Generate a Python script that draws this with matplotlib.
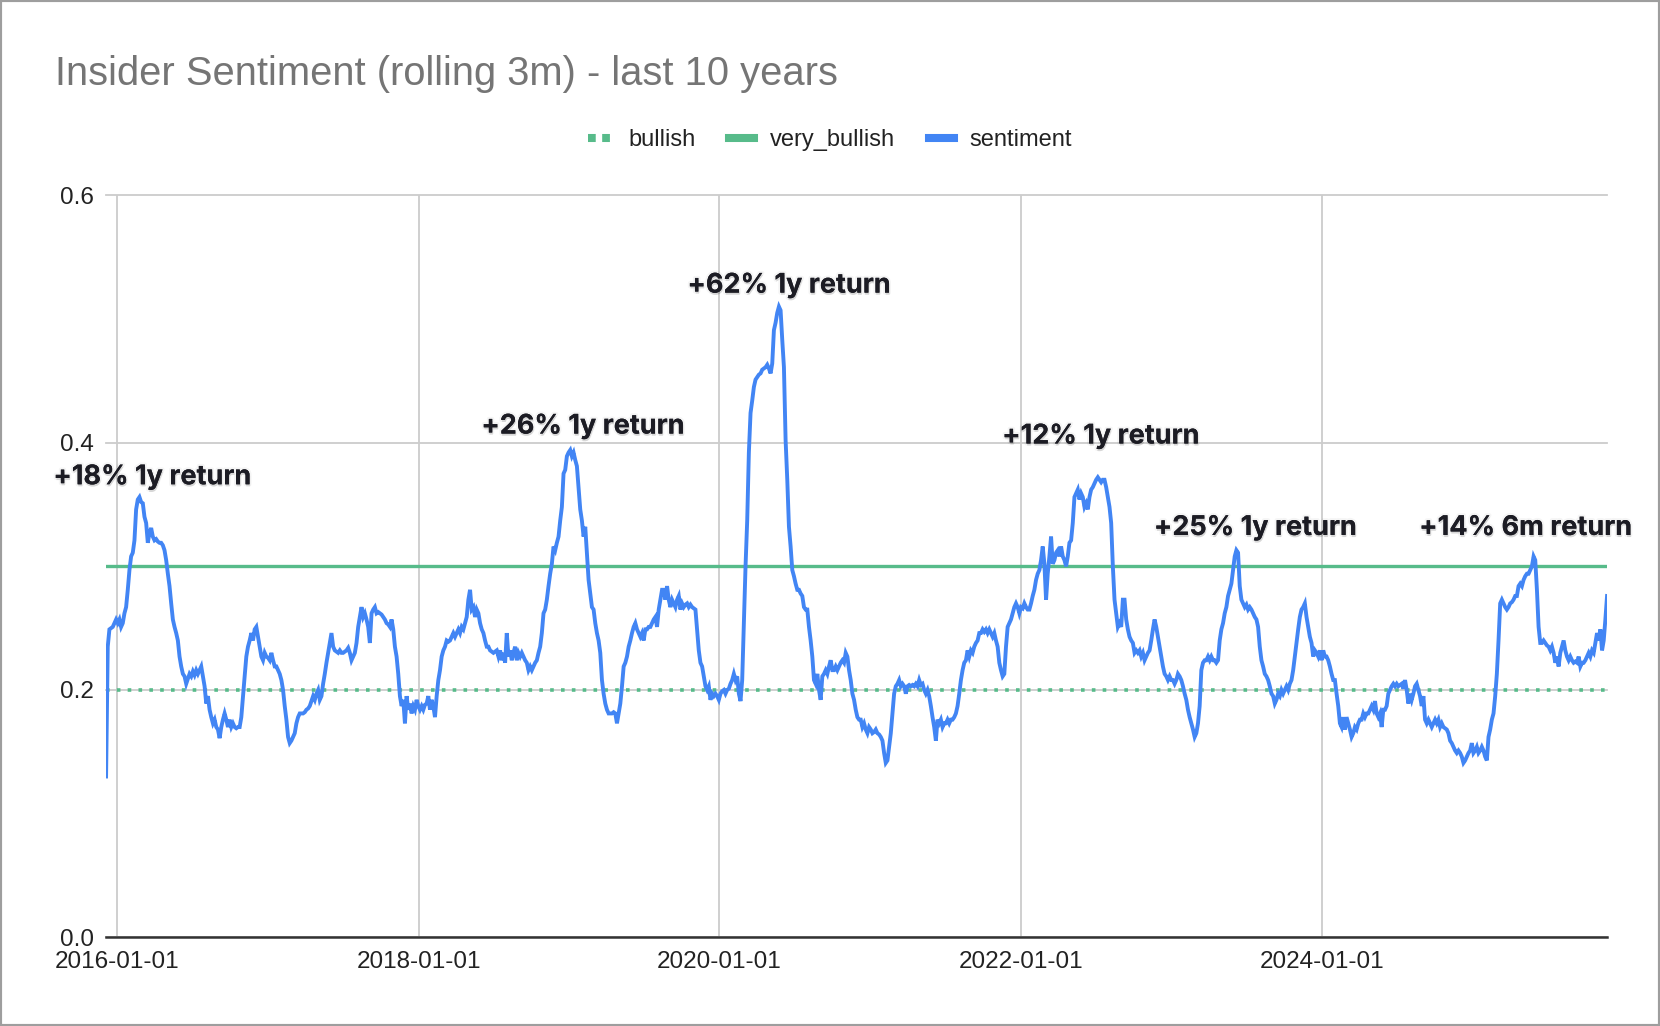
import numpy as np
import pandas as pd
import matplotlib
matplotlib.use("Agg")
import matplotlib.pyplot as plt
import matplotlib.dates as mdates
import matplotlib.patheffects as pe
from matplotlib.lines import Line2D
from matplotlib.patches import Rectangle

# rolling 3m insider sentiment at ~4 day steps
start_date = "2015-12-05"
end_date = "2025-11-23"

sent_a = [
    0.130, 0.235, 0.249, 0.250, 0.251, 0.254, 0.257, 0.254, 0.257, 0.251,
    0.254, 0.262, 0.267, 0.281, 0.297, 0.308, 0.311, 0.321, 0.346, 0.354,
    0.356, 0.352, 0.351, 0.340, 0.335, 0.319, 0.327, 0.331, 0.324, 0.321,
    0.322, 0.320, 0.319, 0.319, 0.317, 0.313, 0.305, 0.294, 0.284, 0.270,
    0.257, 0.251, 0.246, 0.240, 0.227, 0.219, 0.213, 0.211, 0.205, 0.209,
    0.213, 0.211, 0.215, 0.212, 0.216, 0.213, 0.216, 0.219, 0.211, 0.203,
    0.189, 0.195, 0.184, 0.178, 0.173, 0.176, 0.170, 0.168, 0.161, 0.170,
    0.176, 0.181, 0.176, 0.170, 0.176, 0.170, 0.173, 0.170, 0.169, 0.170,
    0.170, 0.178, 0.195, 0.211, 0.227, 0.235, 0.240, 0.246, 0.240, 0.249,
    0.251, 0.243, 0.235, 0.227, 0.224, 0.230, 0.227, 0.226, 0.224, 0.230,
    0.224, 0.219, 0.219, 0.216, 0.213, 0.208, 0.200, 0.187, 0.176, 0.162,
    0.157, 0.159, 0.162, 0.165, 0.173, 0.178, 0.181, 0.181, 0.181, 0.182,
    0.184, 0.185, 0.187, 0.191, 0.195, 0.192, 0.197, 0.200, 0.192, 0.195,
    0.205, 0.213, 0.222, 0.230, 0.238, 0.246, 0.235, 0.232, 0.231, 0.230,
    0.232, 0.230, 0.230, 0.231, 0.232, 0.234, 0.230, 0.224, 0.227, 0.230,
    0.238, 0.251, 0.259,
]
sent_b = [
    0.267, 0.259, 0.262, 0.257, 0.251, 0.238, 0.262, 0.265, 0.267, 0.262,
    0.263, 0.262, 0.261, 0.259, 0.257, 0.254, 0.253, 0.251, 0.257, 0.249,
    0.235, 0.227, 0.213, 0.195, 0.187, 0.192, 0.173, 0.195, 0.184, 0.189,
    0.181, 0.187, 0.184, 0.192, 0.187, 0.184, 0.187, 0.184, 0.188, 0.189,
    0.195, 0.184, 0.192, 0.187, 0.178, 0.195, 0.208, 0.216, 0.227, 0.232,
    0.235, 0.240, 0.239, 0.240, 0.243, 0.246, 0.243, 0.246, 0.249, 0.246,
    0.251, 0.249, 0.254, 0.259, 0.273, 0.281, 0.265, 0.267, 0.259, 0.265,
    0.262, 0.254, 0.249, 0.246, 0.240, 0.235, 0.235, 0.232, 0.231, 0.230,
    0.231, 0.232, 0.227, 0.232, 0.224, 0.230, 0.222, 0.246, 0.227, 0.232,
    0.224, 0.230, 0.235, 0.224, 0.230, 0.227, 0.230, 0.227, 0.224, 0.222,
    0.216, 0.219, 0.216, 0.219, 0.222, 0.224, 0.230, 0.235, 0.246, 0.262,
    0.265, 0.273, 0.284, 0.294, 0.302, 0.316, 0.313, 0.319, 0.324, 0.337,
    0.348, 0.375, 0.378, 0.389, 0.392, 0.394, 0.389, 0.392, 0.386, 0.381,
    0.364, 0.346, 0.337, 0.324, 0.332, 0.311, 0.289, 0.278, 0.267, 0.265,
    0.254, 0.246, 0.240, 0.230, 0.208, 0.197, 0.189, 0.184, 0.181, 0.181,
]
sent_c = [
    0.181, 0.182, 0.181, 0.173, 0.181, 0.189, 0.203, 0.219, 0.222, 0.227,
    0.235, 0.240, 0.246, 0.251, 0.254, 0.249, 0.246, 0.243, 0.246, 0.240,
    0.249, 0.249, 0.251, 0.251, 0.254, 0.257, 0.259, 0.251, 0.265, 0.273,
    0.281, 0.281, 0.273, 0.284, 0.273, 0.267, 0.273, 0.270, 0.267, 0.273,
    0.276, 0.265, 0.270, 0.267, 0.269, 0.270, 0.267, 0.269, 0.267, 0.266,
    0.265, 0.249, 0.232, 0.222, 0.219, 0.211, 0.203, 0.200, 0.203, 0.192,
    0.197, 0.195, 0.197, 0.195, 0.192, 0.197, 0.199, 0.200, 0.197, 0.200,
    0.201, 0.205, 0.208, 0.213, 0.208, 0.211, 0.197, 0.191, 0.208, 0.254,
    0.300, 0.337, 0.392, 0.424, 0.434, 0.445, 0.451, 0.453, 0.455, 0.456,
    0.459, 0.460, 0.461, 0.463, 0.460, 0.456, 0.464, 0.491, 0.497, 0.505,
    0.510, 0.507, 0.483, 0.461, 0.402, 0.370, 0.332, 0.316, 0.297, 0.292,
    0.286, 0.281, 0.281, 0.278, 0.276, 0.267, 0.265, 0.265, 0.251, 0.240,
    0.227, 0.208, 0.205, 0.213, 0.200, 0.192, 0.211, 0.213, 0.216, 0.213,
    0.219, 0.224, 0.216, 0.216, 0.219, 0.216, 0.219, 0.222, 0.224, 0.222,
    0.230, 0.227, 0.216, 0.208, 0.197, 0.192, 0.184, 0.178, 0.176, 0.176,
]
sent_d = [
    0.170, 0.173, 0.168, 0.165, 0.170, 0.168, 0.165, 0.166, 0.168, 0.165,
    0.164, 0.162, 0.159, 0.149, 0.141, 0.143, 0.154, 0.165, 0.181, 0.197,
    0.203, 0.205, 0.208, 0.203, 0.205, 0.203, 0.197, 0.203, 0.204, 0.203,
    0.204, 0.203, 0.205, 0.203, 0.208, 0.204, 0.205, 0.200, 0.197, 0.200,
    0.195, 0.187, 0.178, 0.170, 0.159, 0.176, 0.173, 0.176, 0.170, 0.173,
    0.173, 0.176, 0.173, 0.176, 0.176, 0.178, 0.181, 0.187, 0.197, 0.208,
    0.216, 0.222, 0.224, 0.232, 0.227, 0.232, 0.230, 0.235, 0.238, 0.240,
    0.246, 0.246, 0.249, 0.247, 0.249, 0.246, 0.249, 0.246, 0.243, 0.246,
    0.240, 0.235, 0.222, 0.216, 0.211, 0.213, 0.235, 0.251, 0.254, 0.257,
    0.262, 0.267, 0.270, 0.267, 0.262, 0.267, 0.266, 0.270, 0.267, 0.265,
    0.265, 0.270, 0.276, 0.281, 0.289, 0.294, 0.297, 0.305, 0.316, 0.302,
    0.273, 0.294, 0.308, 0.324, 0.302, 0.305, 0.311, 0.313, 0.308, 0.316,
    0.308, 0.305, 0.300, 0.308, 0.319, 0.321, 0.335, 0.356, 0.359, 0.362,
    0.354, 0.359, 0.356, 0.348, 0.351, 0.346, 0.356, 0.362, 0.364, 0.367,
    0.370, 0.372, 0.370, 0.368, 0.370, 0.370, 0.364, 0.356, 0.348, 0.335,
]
sent_e = [
    0.300, 0.273, 0.262, 0.251, 0.254, 0.251, 0.273, 0.273, 0.257, 0.249,
    0.243, 0.240, 0.238, 0.230, 0.232, 0.230, 0.232, 0.227, 0.230, 0.224,
    0.227, 0.230, 0.232, 0.240, 0.249, 0.257, 0.251, 0.243, 0.235, 0.227,
    0.219, 0.213, 0.211, 0.208, 0.211, 0.208, 0.208, 0.205, 0.208, 0.213,
    0.211, 0.208, 0.203, 0.197, 0.192, 0.184, 0.178, 0.173, 0.168, 0.162,
    0.165, 0.173, 0.187, 0.216, 0.222, 0.224, 0.224, 0.227, 0.224, 0.227,
    0.224, 0.224, 0.222, 0.224, 0.240, 0.249, 0.254, 0.262, 0.267, 0.276,
    0.281, 0.286, 0.297, 0.308, 0.313, 0.311, 0.284, 0.273, 0.270, 0.267,
    0.269, 0.265, 0.267, 0.265, 0.262, 0.259, 0.257, 0.251, 0.235, 0.224,
    0.219, 0.213, 0.211, 0.208, 0.203, 0.197, 0.195, 0.189, 0.192, 0.197,
    0.195, 0.200, 0.197, 0.200, 0.203, 0.200, 0.205, 0.208, 0.216, 0.227,
    0.238, 0.249, 0.259, 0.265, 0.267, 0.270, 0.259, 0.251, 0.243, 0.238,
    0.227, 0.232, 0.230, 0.227, 0.232, 0.224, 0.232, 0.227, 0.227, 0.224,
    0.219, 0.213, 0.208, 0.208, 0.197, 0.187, 0.173, 0.170, 0.178, 0.168,
    0.178, 0.173, 0.168, 0.162, 0.165, 0.170, 0.168, 0.173, 0.176, 0.176,
]
sent_f = [
    0.181, 0.178, 0.181, 0.181, 0.184, 0.187, 0.184, 0.191, 0.181, 0.178,
    0.181, 0.170, 0.184, 0.184, 0.187, 0.197, 0.200, 0.203, 0.205, 0.203,
    0.205, 0.203, 0.204, 0.205, 0.201, 0.208, 0.200, 0.189, 0.197, 0.192,
    0.197, 0.203, 0.205, 0.200, 0.195, 0.187, 0.195, 0.176, 0.173, 0.176,
    0.173, 0.170, 0.173, 0.176, 0.173, 0.176, 0.170, 0.173, 0.170, 0.169,
    0.168, 0.165, 0.159, 0.157, 0.154, 0.151, 0.149, 0.151, 0.149, 0.146,
    0.141, 0.143, 0.146, 0.149, 0.151, 0.157, 0.149, 0.151, 0.154, 0.149,
    0.151, 0.154, 0.151, 0.146, 0.143, 0.162, 0.168, 0.176, 0.181, 0.195,
    0.213, 0.240, 0.270, 0.273, 0.270, 0.267, 0.265, 0.267, 0.270, 0.271,
    0.273, 0.276, 0.276, 0.284, 0.286, 0.284, 0.289, 0.292, 0.294, 0.294,
    0.297, 0.300, 0.308, 0.305, 0.281, 0.251, 0.238, 0.238, 0.240, 0.238,
    0.236, 0.235, 0.232, 0.235, 0.230, 0.222, 0.227, 0.219, 0.230, 0.235,
    0.240, 0.232, 0.227, 0.224, 0.227, 0.224, 0.222, 0.223, 0.222, 0.227,
    0.219, 0.222, 0.222, 0.224, 0.227, 0.230, 0.227, 0.232, 0.230, 0.238,
    0.246, 0.240, 0.249, 0.232, 0.240, 0.257, 0.276,
]

bullish = 0.2
very_bullish = 0.3

note_dates = ["2016-03-26", "2019-02-04", "2020-06-18", "2022-07-14", "2023-07-24", "2025-05-10"]
note_values = [0.372, 0.413, 0.527, 0.405, 0.331, 0.331]
note_texts = ["+18% 1y return", "+26% 1y return", "+62% 1y return",
              "+12% 1y return", "+25% 1y return", "+14% 6m return"]

x_ticks = ["2016-01-01", "2018-01-01", "2020-01-01", "2022-01-01", "2024-01-01"]
y_ticks = [0.0, 0.2, 0.4, 0.6]

blue = "#4285F4"
green = "#57BB8A"

sentiment = np.array(sent_a + sent_b + sent_c + sent_d + sent_e + sent_f)
dates = pd.date_range(start_date, end_date, periods=len(sentiment))

fig = plt.figure(figsize=(16.6, 10.26), dpi=100)
ax = fig.add_axes([0.0639, 0.0865, 0.9042, 0.7231])

ax.axhline(bullish, color=green, lw=2.6, linestyle=(0, (1, 2.0)), zorder=2)
ax.axhline(very_bullish, color=green, lw=2.4, zorder=2)
ax.plot(dates, sentiment, color=blue, lw=2.8, zorder=3, solid_joinstyle="miter")

ax.set_xlim(dates[0], dates[-1])
ax.set_ylim(0, 0.6)
ax.set_xticks(pd.to_datetime(x_ticks))
ax.xaxis.set_major_formatter(mdates.DateFormatter("%Y-%m-%d"))
ax.set_yticks(y_ticks)
ax.set_yticklabels([f"{v:.1f}" for v in y_ticks])

ax.grid(True, color="#cccccc", lw=1.3, zorder=0)
for gl in ax.get_ygridlines():
    gl.set_clip_on(False)
ax.set_axisbelow(True)
for s in ["top", "right", "left"]:
    ax.spines[s].set_visible(False)
ax.spines["bottom"].set_color("#333333")
ax.spines["bottom"].set_linewidth(1.8)
ax.spines["bottom"].set_zorder(4)
ax.tick_params(length=0, labelsize=17.5, labelcolor="#222222")
ax.tick_params(axis="y", pad=9)
ax.tick_params(axis="x", pad=10)
for lab in ax.get_xticklabels() + ax.get_yticklabels():
    lab.set_family("Liberation Sans")

shadow = [pe.SimplePatchShadow(offset=(0.5, -1.5), shadow_rgbFace="#000000", alpha=0.12),
          pe.Stroke(linewidth=3, foreground=(0, 0, 0, 0.04)), pe.Normal()]
for d, v, t in zip(note_dates, note_values, note_texts):
    ax.text(pd.Timestamp(d), v, t, ha="center", va="center", fontsize=19.5,
            fontweight="bold", family="Inter", color="#1c1c24",
            path_effects=shadow, zorder=5, clip_on=False)

fig.text(0.0331, 1 - 85 / 1026, "Insider Sentiment (rolling 3m) - last 10 years",
         fontsize=28.7, family="Liberation Sans", color="#757575", va="baseline")

handles = [
    Line2D([], [], color=green, lw=5.8, linestyle=(0, (0.96, 0.8))),
    Line2D([], [], color=green, lw=5.8),
    Line2D([], [], color=blue, lw=5.8),
]
fig.legend(handles, ["bullish", "very_bullish", "sentiment"], loc="center",
           bbox_to_anchor=(0.5, 1 - 140 / 1026), ncol=3, frameon=False,
           prop={"family": "Liberation Sans", "size": 17}, labelcolor="#222222",
           handlelength=1.05, handletextpad=0.68, columnspacing=1.42)

fig.patches.append(Rectangle((0, 0), 1, 1, transform=fig.transFigure, fill=False,
                             edgecolor="#9e9e9e", lw=3))

fig.savefig("out.png", dpi=100)
